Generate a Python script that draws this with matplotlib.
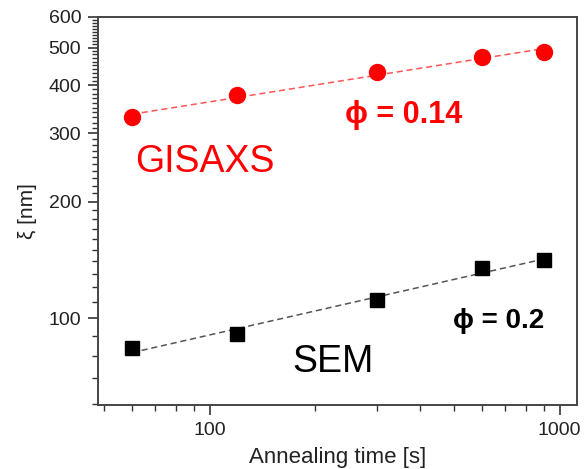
import numpy as np
import matplotlib.pyplot as plt
from matplotlib.ticker import FixedLocator, NullFormatter

plt.rcParams['font.family'] = ['Liberation Sans', 'DejaVu Sans']

# annealing times [s]
anneal_time = [60, 120, 300, 600, 900]
# correlation length xi [nm]
xi_gisaxs = [330, 377, 432, 472, 487]
xi_sem = [83.6, 91, 111, 135, 141]

labels = {'gisaxs': 'GISAXS', 'sem': 'SEM',
          'phi_gisaxs': 'ϕ = 0.14', 'phi_sem': 'ϕ = 0.2'}


def powerlaw_fit(x, y):
    """Straight line fit in log-log space."""
    p = np.polyfit(np.log10(x), np.log10(y), 1)
    xf = np.array([min(x), max(x)])
    return xf, 10 ** np.polyval(p, np.log10(xf))


fig = plt.figure(figsize=(5.85, 4.69), dpi=100)
ax = fig.add_axes([0.1675, 0.1365, 0.8185, 0.8273])

xf, yf = powerlaw_fit(anneal_time, xi_gisaxs)
ax.plot(xf, yf, '--', color='#ff5555', lw=1.1, dashes=(4, 2.5))
ax.plot(anneal_time, xi_gisaxs, 'o', color='#ff0000', ms=11.5, mec='#ff0000')

xf, yf = powerlaw_fit(anneal_time, xi_sem)
ax.plot(xf, yf, '--', color='#555555', lw=1.1, dashes=(4, 2.5))
ax.plot(anneal_time, xi_sem, 's', color='black', ms=10)

ax.set_xscale('log')
ax.set_yscale('log')
ax.set_xlim(48, 1120)
ax.set_ylim(59.6, 600)

# ticks, origin style
ax.xaxis.set_major_locator(FixedLocator([100, 1000]))
ax.xaxis.set_minor_locator(FixedLocator([50, 60, 70, 80, 90, 200, 300, 400,
                                         500, 600, 700, 800, 900]))
ax.set_xticklabels(['100', '1000'])
ax.xaxis.set_minor_formatter(NullFormatter())

ax.yaxis.set_major_locator(FixedLocator([100, 200, 300, 400, 500, 600]))
ax.set_yticklabels(['100', '200', '300', '400', '500', '600'])
ax.yaxis.set_minor_locator(FixedLocator([v for v in range(60, 600, 10) if v % 100]))
ax.yaxis.set_minor_formatter(NullFormatter())

ax.tick_params(which='both', direction='out', top=False, right=False,
               color='#333333', labelsize=14, labelcolor='#222222')
ax.tick_params(which='major', length=7, width=1.2, pad=5)
ax.tick_params(which='minor', length=4, width=1.0)

for sp in ax.spines.values():
    sp.set_color('#444444')
    sp.set_linewidth(1.4)

ax.set_xlabel('Annealing time [s]', fontsize=16, color='#222222', labelpad=6)
ax.set_ylabel('ξ [nm]', fontsize=15, color='#222222', labelpad=8)

ax.text(0.077, 0.600, labels['gisaxs'], transform=ax.transAxes,
        color='#ff0000', fontsize=27, va='baseline')
ax.text(0.405, 0.085, labels['sem'], transform=ax.transAxes,
        color='black', fontsize=27, va='baseline')
ax.text(0.516, 0.727, labels['phi_gisaxs'], transform=ax.transAxes,
        color='#ff0000', fontsize=22, fontweight='bold', va='baseline')
ax.text(0.741, 0.198, labels['phi_sem'], transform=ax.transAxes,
        color='black', fontsize=20, fontweight='bold', va='baseline')

fig.savefig('out.png', dpi=100)
